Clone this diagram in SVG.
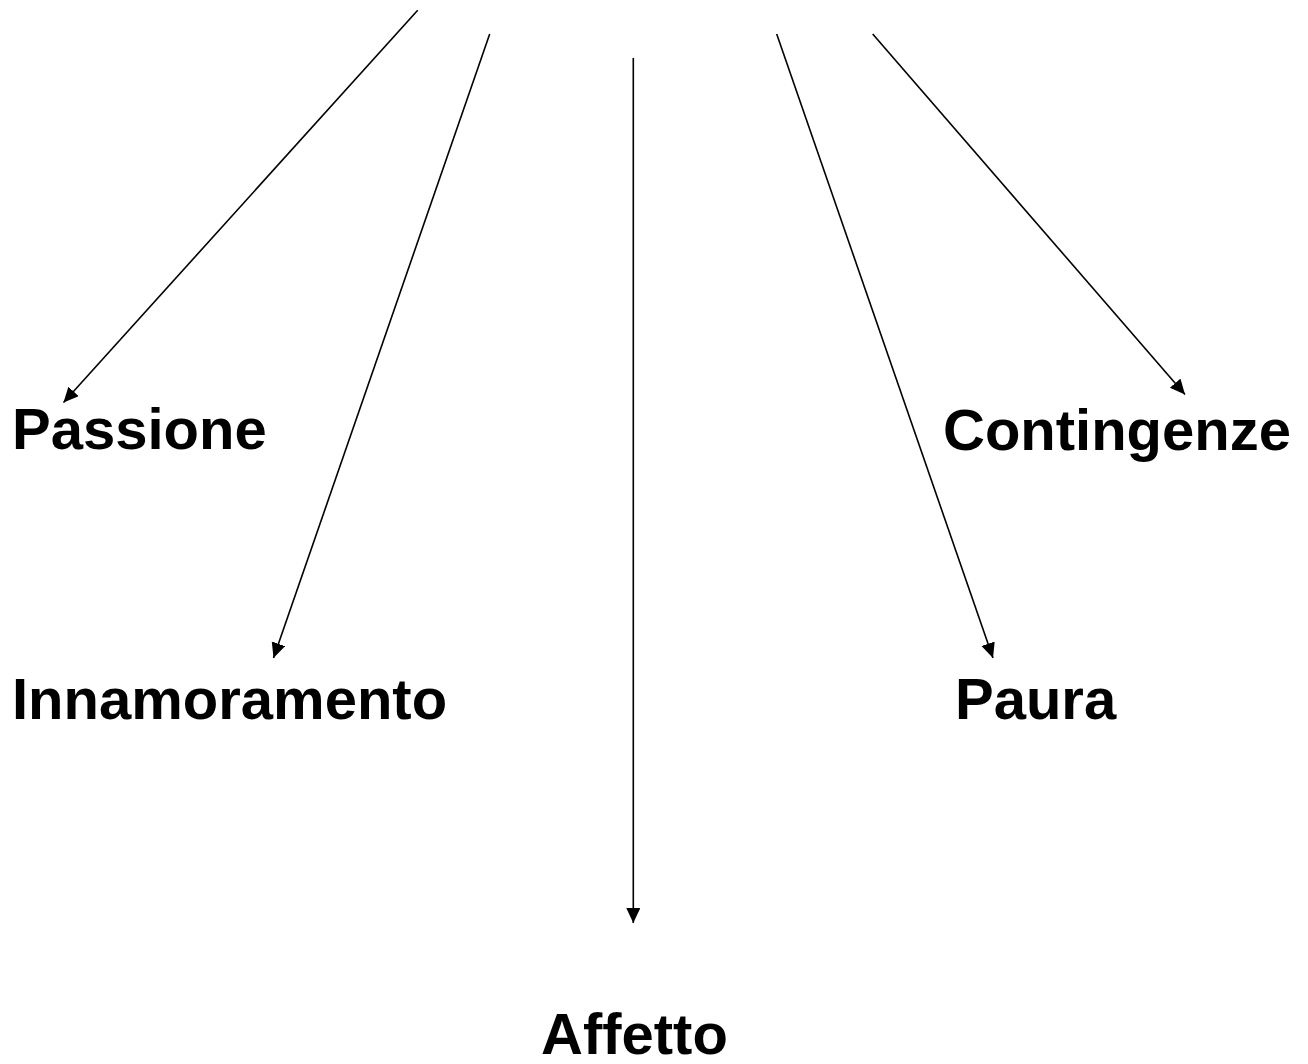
<svg xmlns="http://www.w3.org/2000/svg" width="1308" height="1064" viewBox="0 0 1308 1064">
<defs>
<style>
.lbl{font-family:"Liberation Sans",Arial,sans-serif;font-weight:bold;font-size:58px;fill:#000}
.cn{stroke:#000;stroke-width:1.6;fill:none;marker-end:url(#ah)}
</style>
<marker id="ah" markerUnits="userSpaceOnUse" markerWidth="18" markerHeight="16" refX="15" refY="7" orient="auto">
<path d="M0,0 L15,7 L0,14 Z" fill="#000"/>
</marker>
</defs>
<rect width="1308" height="1064" fill="#fff"/>
<g id="connectors">
<line class="cn" x1="417.7" y1="10.3" x2="63.5" y2="402.5"/>
<line class="cn" x1="489.7" y1="34" x2="273.5" y2="658"/>
<line class="cn" x1="633.3" y1="58" x2="633.3" y2="923"/>
<line class="cn" x1="776.7" y1="34" x2="993" y2="658"/>
<line class="cn" x1="872.7" y1="34" x2="1185" y2="394.5"/>
</g>
<g id="passione"><text class="lbl" x="12" y="449">Passione</text></g>
<g id="innamoramento"><text class="lbl" x="12" y="719">Innamoramento</text></g>
<g id="affetto"><text class="lbl" x="541" y="1054">Affetto</text></g>
<g id="paura"><text class="lbl" x="955" y="719">Paura</text></g>
<g id="contingenze"><text class="lbl" x="943" y="450">Contingenze</text></g>
</svg>
